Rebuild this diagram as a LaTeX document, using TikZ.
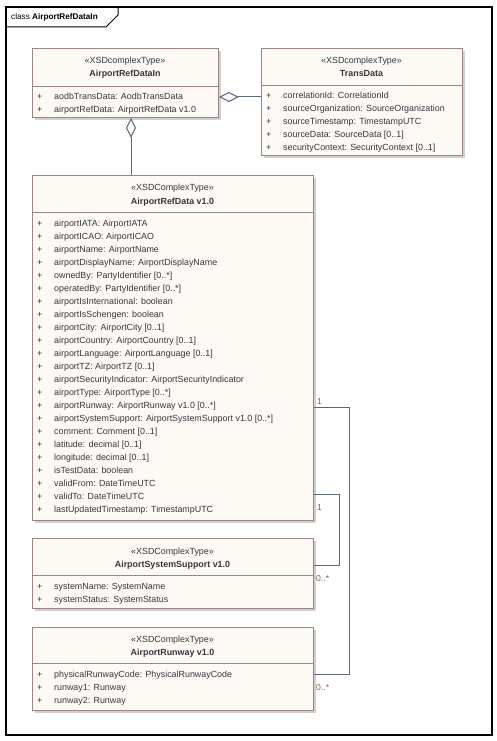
\documentclass[tikz,border=0pt]{standalone}
\usepackage{fontspec}
\setmainfont{Liberation Sans}
\usetikzlibrary{positioning}
\usetikzlibrary{arrows.meta}
\usetikzlibrary{shadows}
\definecolor{boxfill}{RGB}{253,249,245}
\definecolor{boxline}{RGB}{155,133,133}
\definecolor{shadowgray}{RGB}{208,208,208}
\definecolor{link}{RGB}{91,102,131}
\definecolor{txt}{RGB}{55,55,62}
\definecolor{multc}{RGB}{120,95,75}
\tikzset{
    classbox/.style = {rectangle, draw=boxline, fill=boxfill, line width=0.9pt, anchor=north west, inner sep=0pt,
        drop shadow={shadow xshift=3pt, shadow yshift=-3pt, fill=shadowgray, opacity=1}},
    stereo/.style = {anchor=base, inner sep=0pt, text=txt, font=\fontsize{8.9}{13}\selectfont},
    cname/.style = {anchor=base, inner sep=0pt, text=txt, font=\fontsize{8.9}{13}\selectfont\bfseries},
    attrs/.style = {anchor=base west, inner sep=0pt, align=left, text=txt, font=\fontsize{8.9}{13}\selectfont},
    divider/.style = {draw=boxline, line width=0.9pt},
    assoc/.style = {draw=link, line width=1pt},
    aggr/.style = {assoc, {Diamond[length=20pt, width=10pt, fill=boxfill]}-},
    mult/.style = {anchor=base west, inner sep=0pt, text=multc, font=\fontsize{8.6}{10}\selectfont},
}
\newcommand{\pl}{\makebox[17pt][l]{+}}

\begin{document}
\begin{tikzpicture}[x=1pt, y=-1pt]
\useasboundingbox (0,0) rectangle (497,741);
% frame
\draw[line width=1.3pt] (6,7) rectangle (492,735);
\draw[line width=1pt] (6,27) -- (106,27) -- (118,15) -- (118,7);
\node[anchor=west, inner sep=0pt, font=\fontsize{8.2}{10}\selectfont] (title) at (11,17) {class \textbf{AirportRefDataIn}};

% classes (attribute nodes sit on the baseline of their last line)
\node[classbox, minimum width=186pt, minimum height=69pt] at (32,48) (refin) {};
\draw[divider] ([yshift=-38pt]refin.north west) -- ([yshift=-38pt]refin.north east);
\node[stereo] at (125,64) (refin-st) {«XSDcomplexType»};
\node[cname] at (125,77) (refin-nm) {AirportRefDataIn};
\node[attrs] at (37,113) (refin-at) {\pl aodbTransData: AodbTransData\\
\pl airportRefData: AirportRefData v1.0};

\node[classbox, minimum width=201pt, minimum height=107pt] at (261,48) (trans) {};
\draw[divider] ([yshift=-37pt]trans.north west) -- ([yshift=-37pt]trans.north east);
\node[stereo] at (361.5,64) (trans-st) {«XSDcomplexType»};
\node[cname] at (361.5,77) (trans-nm) {TransData};
\node[attrs] at (266,150) (trans-at) {\pl correlationId: CorrelationId\\
\pl sourceOrganization: SourceOrganization\\
\pl sourceTimestamp: TimestampUTC\\
\pl sourceData: SourceData [0..1]\\
\pl securityContext: SecurityContext [0..1]};

\node[classbox, minimum width=281pt, minimum height=345pt] at (32,175) (refdata) {};
\draw[divider] ([yshift=-37pt]refdata.north west) -- ([yshift=-37pt]refdata.north east);
\node[stereo] at (172.5,190) (refdata-st) {«XSDComplexType»};
\node[cname] at (172.5,204) (refdata-nm) {AirportRefData v1.0};
\node[attrs] at (37,512) (refdata-at) {\pl airportIATA: AirportIATA\\
\pl airportICAO: AirportICAO\\
\pl airportName: AirportName\\
\pl airportDisplayName: AirportDisplayName\\
\pl ownedBy: PartyIdentifier [0..*]\\
\pl operatedBy: PartyIdentifier [0..*]\\
\pl airportIsInternational: boolean\\
\pl airportIsSchengen: boolean\\
\pl airportCity: AirportCity [0..1]\\
\pl airportCountry: AirportCountry [0..1]\\
\pl airportLanguage: AirportLanguage [0..1]\\
\pl airportTZ: AirportTZ [0..1]\\
\pl airportSecurityIndicator: AirportSecurityIndicator\\
\pl airportType: AirportType [0..*]\\
\pl airportRunway: AirportRunway v1.0 [0..*]\\
\pl airportSystemSupport: AirportSystemSupport v1.0 [0..*]\\
\pl comment: Comment [0..1]\\
\pl latitude: decimal [0..1]\\
\pl longitude: decimal [0..1]\\
\pl isTestData: boolean\\
\pl validFrom: DateTimeUTC\\
\pl validTo: DateTimeUTC\\
\pl lastUpdatedTimestamp: TimestampUTC};

\node[classbox, minimum width=281pt, minimum height=70pt] at (32,538) (sys) {};
\draw[divider] ([yshift=-37pt]sys.north west) -- ([yshift=-37pt]sys.north east);
\node[stereo] at (172.5,554) (sys-st) {«XSDComplexType»};
\node[cname] at (172.5,567) (sys-nm) {AirportSystemSupport v1.0};
\node[attrs] at (37,602) (sys-at) {\pl systemName: SystemName\\
\pl systemStatus: SystemStatus};

\node[classbox, minimum width=281pt, minimum height=83pt] at (32,627) (runway) {};
\draw[divider] ([yshift=-36pt]runway.north west) -- ([yshift=-36pt]runway.north east);
\node[stereo] at (172.5,642) (runway-st) {«XSDComplexType»};
\node[cname] at (172.5,655) (runway-nm) {AirportRunway v1.0};
\node[attrs] at (37,703) (runway-at) {\pl physicalRunwayCode: PhysicalRunwayCode\\
\pl runway1: Runway\\
\pl runway2: Runway};

% connectors
\draw[aggr] ([yshift=-49pt]refin.north east) -- ([yshift=-49pt]trans.north west);
\draw[aggr] ([xshift=99pt]refin.south west) -- ([xshift=99pt]refdata.north west);
\draw[assoc] ([yshift=-232pt]refdata.north east) -- ++(36,0) |- ([yshift=-47pt]runway.north east);
\draw[assoc] ([yshift=-319pt]refdata.north east) -- ++(26,0) |- ([yshift=-27pt]sys.north east);

% multiplicities
\node[mult] at (317,404) (m-run1) {1};
\node[mult] at (317,510) (m-sys1) {1};
\node[mult] at (316,581) (m-sys2) {0..*};
\node[mult] at (316,690) (m-run2) {0..*};
\end{tikzpicture}
\end{document}
